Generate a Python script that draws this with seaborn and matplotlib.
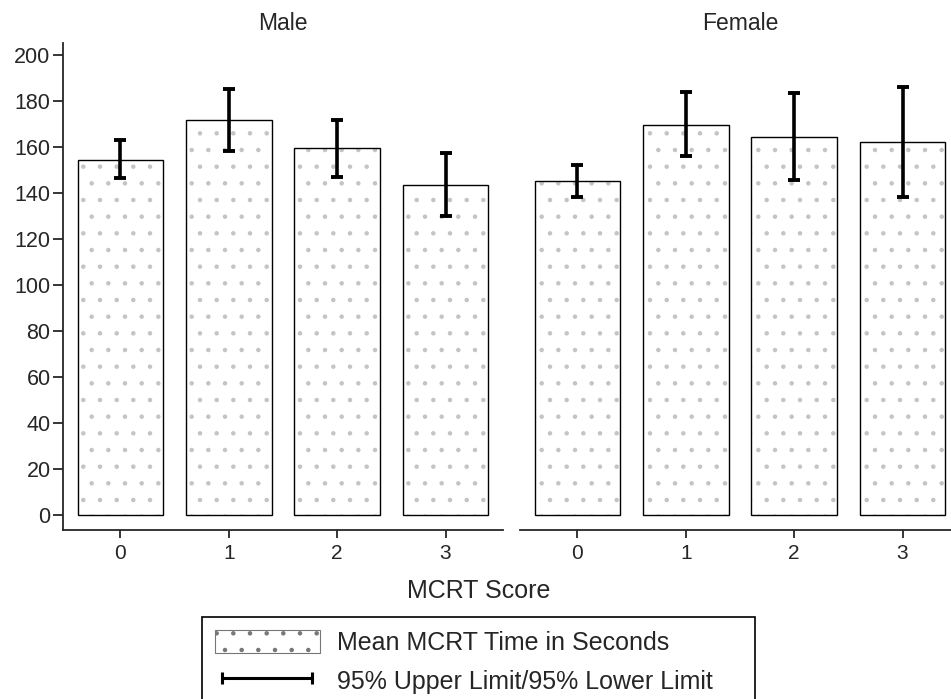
import matplotlib
matplotlib.use("Agg")
import matplotlib.pyplot as plt
import seaborn as sns
import pandas as pd
from matplotlib.patches import Patch
from matplotlib.lines import Line2D

# ---- data ----
scores = ["0", "1", "2", "3"]
male_mean = [154.3, 171.5, 159.3, 143.4]
male_upper = [163.0, 185.0, 171.4, 157.3]
male_lower = [146.5, 158.0, 146.7, 129.7]
female_mean = [145.0, 169.5, 164.1, 162.0]
female_upper = [152.0, 183.7, 183.4, 185.9]
female_lower = [138.0, 156.0, 145.5, 138.0]
panel_titles = ["Male", "Female"]
y_ticks = [0, 20, 40, 60, 80, 100, 120, 140, 160, 180, 200]
x_label = "MCRT Score"
legend_labels = ["Mean MCRT Time in Seconds", "95% Upper Limit/95% Lower Limit"]

sns.set_style("white")
plt.rcParams["font.family"] = ["Liberation Sans", "DejaVu Sans"]
plt.rcParams["hatch.linewidth"] = 0.8
plt.rcParams["hatch.color"] = "#c4c4c4"
HATCH_COLOR = "#c4c4c4"

W, H = 951, 699
fig = plt.figure(figsize=(W / 100, H / 100), dpi=100)

def frac_box(x0, y_top, x1, y_bot):
    return [x0 / W, 1 - y_bot / H, (x1 - x0) / W, (y_bot - y_top) / H]

ax1 = fig.add_axes(frac_box(63, 43, 503, 530))
ax2 = fig.add_axes(frac_box(520, 43, 960, 530))

panels = [
    (ax1, male_mean, male_upper, male_lower, panel_titles[0]),
    (ax2, female_mean, female_upper, female_lower, panel_titles[1]),
]

for i, (ax, means, up, lo, title) in enumerate(panels):
    df = pd.DataFrame({"score": scores, "mean": means})
    sns.barplot(data=df, x="score", y="mean", ax=ax, color="white",
                edgecolor=HATCH_COLOR, linewidth=0.0, width=0.79,
                saturation=1, errorbar=None)
    for p in ax.patches:
        p.set_facecolor("white")
        p.set_hatch(".")
        if hasattr(p, "set_hatchcolor"):
            p.set_hatchcolor(HATCH_COLOR)
    # crisp black outlines on top
    sns.barplot(data=df, x="score", y="mean", ax=ax, fill=False,
                edgecolor="black", linewidth=1.0, width=0.79,
                errorbar=None)
    xs = list(range(len(scores)))
    yerr = [[m - l for m, l in zip(means, lo)], [u - m for m, u in zip(means, up)]]
    ax.errorbar(xs, means, yerr=yerr, fmt="none", ecolor="black",
                elinewidth=2.6, capsize=4.5, capthick=2.8, zorder=5)
    ax.set_xlim(-0.53, 3.53)
    ax.set_ylim(-6.5, 205)
    ax.set_xlabel("")
    ax.set_ylabel("")
    ax.set_title(title, fontsize=16.5, pad=9)
    for s in ["top", "right"]:
        ax.spines[s].set_visible(False)
    ax.spines["bottom"].set_linewidth(1.3)
    ax.spines["left"].set_linewidth(1.3)
    ax.tick_params(axis="x", length=6, width=1.3, direction="out",
                   labelsize=15, pad=4, bottom=True)
    if i == 0:
        ax.set_yticks(y_ticks)
        ax.tick_params(axis="y", length=7, width=1.3, direction="out",
                       labelsize=15.5, pad=2, left=True)
    else:
        ax.spines["left"].set_visible(False)
        ax.set_yticks([])

fig.text(479 / W, 1 - 598 / H, x_label, ha="center", va="baseline",
         fontsize=18)

handles = [
    Patch(facecolor="white", edgecolor="#777777", hatch=".", linewidth=0.8),
    Line2D([0, 1], [0, 0], color="black", linewidth=2.2, marker="|",
           markersize=9, markeredgewidth=2.2),
]
top = 1 - 617 / H
leg = fig.legend(handles, legend_labels, loc="upper left",
                 bbox_to_anchor=(202 / W, top - 0.01, 553 / W, 0.01),
                 mode="expand", fontsize=18, frameon=True, fancybox=False,
                 edgecolor="black", framealpha=1, handlelength=4.2,
                 handleheight=1.05, handletextpad=0.7, labelspacing=0.55,
                 borderpad=0.5, borderaxespad=0, numpoints=2)
leg.get_frame().set_linewidth(1.2)

fig.savefig("out.png", dpi=100)
